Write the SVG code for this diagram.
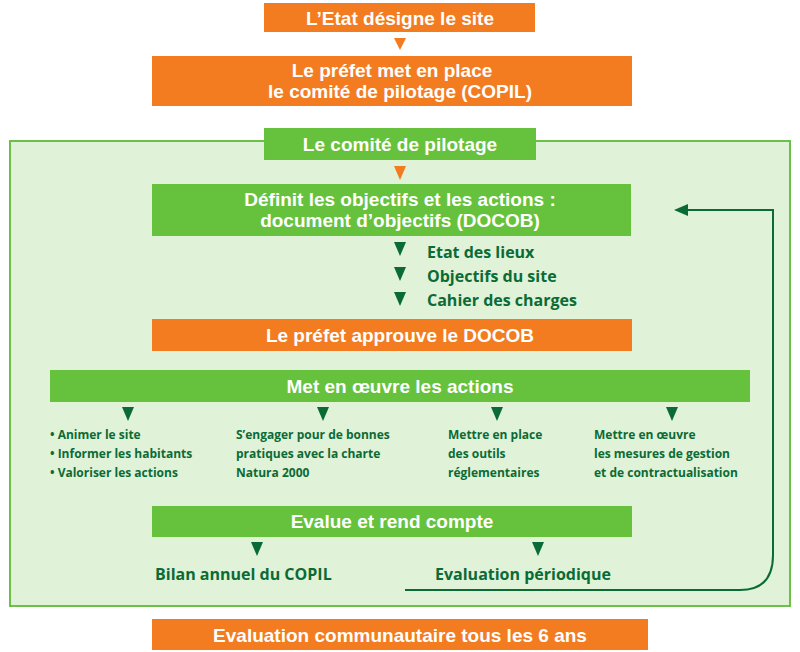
<svg xmlns="http://www.w3.org/2000/svg" width="800" height="652" viewBox="0 0 800 652">
<style>
.o{fill:#f47c20}.g{fill:#66c23d}
.t{font-family:"Liberation Sans",Arial,sans-serif;font-weight:bold;fill:#fff;text-anchor:middle;font-size:19px}
.d{font-family:"Open Sans","Noto Sans",sans-serif;font-weight:bold;fill:#0b6b35;font-size:16px}
.s{font-family:"Open Sans","Noto Sans",sans-serif;font-weight:bold;fill:#0b6b35;font-size:12px}
.tr{fill:#0b6b35}
</style>
<defs>
<path id="tri" d="M-6,0 L6,0 L0,14 Z"/>
</defs>
<rect x="10" y="141" width="780" height="465" fill="#e0f2d8" stroke="#6cc04a" stroke-width="2"/>
<g id="connectors">
<path d="M394,38 L406,38 L400,50 Z" class="o"/>
<path d="M394,166 L406,166 L400,180 Z" class="o"/>
<use href="#tri" x="400" y="242" class="tr"/>
<use href="#tri" x="400" y="267" class="tr"/>
<use href="#tri" x="400" y="292" class="tr"/>
<use href="#tri" x="128" y="407" class="tr"/>
<use href="#tri" x="323" y="407" class="tr"/>
<use href="#tri" x="497" y="407" class="tr"/>
<use href="#tri" x="672" y="407" class="tr"/>
<use href="#tri" x="257" y="542" class="tr"/>
<use href="#tri" x="538" y="542" class="tr"/>
<path d="M405,590 L740,590 Q773,590 773,555 L773,210 L686,210" fill="none" stroke="#0b6b35" stroke-width="2"/>
<path d="M674,210 L688,204 L688,216 Z" class="tr"/>
</g>
<g id="n1"><rect x="264" y="3" width="271" height="29" class="o"/><text x="400" y="25" class="t">L’Etat désigne le site</text></g>
<g id="n2"><rect x="152" y="56" width="480" height="50" class="o"/><text x="392" y="77" class="t">Le préfet met en place</text><text x="400" y="98" class="t">le comité de pilotage (COPIL)</text></g>
<g id="n3"><rect x="264" y="128" width="272" height="32" class="g"/><text x="400" y="151" class="t">Le comité de pilotage</text></g>
<g id="n4"><rect x="152" y="184" width="479" height="52" class="g"/><text x="400" y="206" class="t">Définit les objectifs et les actions :</text><text x="400" y="227" class="t">document d’objectifs (DOCOB)</text></g>
<g id="n5"><text x="427" y="258" class="d">Etat des lieux</text><text x="427" y="282" class="d">Objectifs du site</text><text x="427" y="306" class="d">Cahier des charges</text></g>
<g id="n6"><rect x="152" y="319" width="480" height="32" class="o"/><text x="400" y="342" class="t">Le préfet approuve le DOCOB</text></g>
<g id="n7"><rect x="50" y="370" width="700" height="32" class="g"/><text x="400" y="393" class="t">Met en œuvre les actions</text></g>
<g id="n8"><text class="s" x="50" y="439">• Animer le site</text><text class="s" x="50" y="458">• Informer les habitants</text><text class="s" x="50" y="477">• Valoriser les actions</text></g>
<g id="n9"><text class="s" x="236" y="439">S’engager pour de bonnes</text><text class="s" x="236" y="458">pratiques avec la charte</text><text class="s" x="236" y="477">Natura 2000</text></g>
<g id="n10"><text class="s" x="448" y="439">Mettre en place</text><text class="s" x="448" y="458">des outils</text><text class="s" x="448" y="477">réglementaires</text></g>
<g id="n11"><text class="s" x="594" y="439">Mettre en œuvre</text><text class="s" x="594" y="458">les mesures de gestion</text><text class="s" x="594" y="477">et de contractualisation</text></g>
<g id="n12"><rect x="152" y="506" width="480" height="31" class="g"/><text x="392" y="528" class="t">Evalue et rend compte</text></g>
<g id="n13"><text class="d" x="155" y="580">Bilan annuel du COPIL</text></g>
<g id="n14"><text class="d" x="435" y="580">Evaluation périodique</text></g>
<g id="n15"><rect x="152" y="619" width="496" height="31" class="o"/><text x="400" y="642" class="t">Evaluation communautaire tous les 6 ans</text></g>
</svg>
